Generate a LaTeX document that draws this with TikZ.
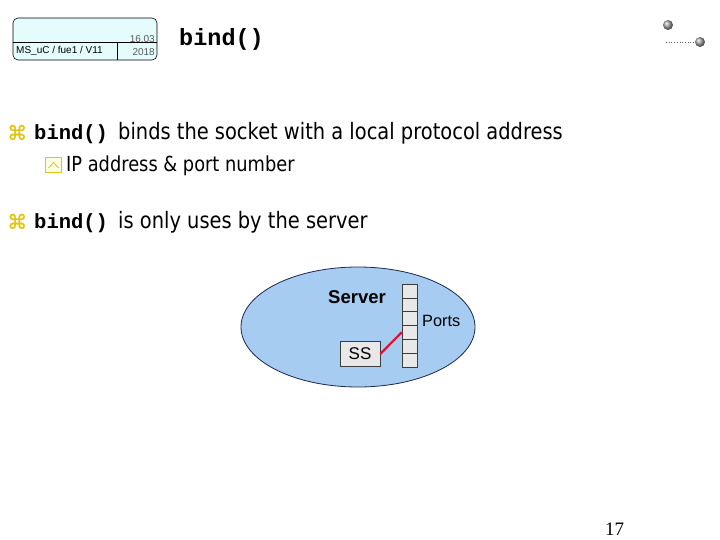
\documentclass[tikz,border=0pt]{standalone}
\usepackage{fontspec}
\setmainfont{Liberation Sans}
\newfontfamily\tah[FakeStretch=0.86]{DejaVu Sans}
\newfontfamily\djvb[FakeBold=1.5]{DejaVu Sans}
\newfontfamily\cour{Liberation Mono}
\newfontfamily\arl{Liberation Sans}
\newfontfamily\tms{Liberation Serif}
\usetikzlibrary{shapes.geometric}
\definecolor{hdrfill}{RGB}{228,252,252}
\definecolor{bulletyel}{RGB}{226,196,20}
\definecolor{ellfill}{RGB}{166,204,242}
\definecolor{ellline}{RGB}{30,40,80}
\definecolor{portfill}{RGB}{232,232,232}
\definecolor{portline}{RGB}{60,60,60}
\definecolor{linkred}{RGB}{220,20,45}
\definecolor{dategrey}{RGB}{90,90,90}
\begin{document}
\begin{tikzpicture}[x=1pt,y=-1pt,
  txt/.style={inner sep=0pt,anchor=base west},
  cell/.style={draw=portline,fill=portfill,line width=0.6pt,minimum width=15pt,minimum height=13.8pt,inner sep=0pt},
  ball/.style={circle,inner sep=0pt,minimum size=10pt,ball color=gray!70!white}]
\useasboundingbox (0,0) rectangle (720,540);
% header box
\draw[fill=hdrfill,line width=0.6pt,rounded corners=5pt] (13,18) rectangle (157,60);
\draw[line width=0.6pt] (13,42) -- (157,42);
\draw[line width=0.6pt] (117,42) -- (117,60);
\node[txt] (hdr) at (16,54) {\arl\fontsize{10}{11}\selectfont MS\_uC / fue1 / V11};
\node[txt,anchor=base east,text=dategrey] (d1) at (155,42.5) {\arl\fontsize{10}{11}\selectfont 16.03};
\node[txt,anchor=base east,text=dategrey] (d2) at (155,55.5) {\arl\fontsize{10}{11}\selectfont 2018};
% title
\node[txt] (title) at (179,46) {\cour\bfseries\fontsize{23.5}{25}\selectfont bind()};
% balls
\node[ball] (b1) at (668,25) {};
\node[ball] (b2) at (700,42) {};
\coordinate (dl) at (666,42);
\draw[dotted,line width=0.7pt,gray!70!black] (dl) -- (b2.west);
% bullets
\node[txt,text=bulletyel] (k1) at (7,140) {\djvb\fontsize{20}{21}\selectfont ⌘};
\node[txt] (l1) at (34,140) {\cour\bfseries\fontsize{20.5}{22}\selectfont bind()\hspace{4pt}\tah\mdseries\fontsize{22.6}{24}\selectfont{} binds the socket with a local protocol address};
\node[draw=bulletyel,fill=yellow!12,line width=0.7pt,minimum width=16pt,minimum height=15pt,inner sep=0pt] (k2) at (53.5,165) {};
\draw[bulletyel,line width=0.8pt] ([xshift=-5pt,yshift=-3pt]k2.center) -- ([yshift=2.5pt]k2.center) -- ([xshift=5pt,yshift=-3pt]k2.center);
\node[txt] (l2) at (66,172) {\tah\fontsize{20.7}{22}\selectfont IP address \& port number};
\node[txt,text=bulletyel] (k3) at (7,229) {\djvb\fontsize{20}{21}\selectfont ⌘};
\node[txt] (l3) at (34,229) {\cour\bfseries\fontsize{20.5}{22}\selectfont bind()\hspace{4pt}\tah\mdseries\fontsize{22.6}{24}\selectfont{} is only uses by the server};
% diagram
\node[ellipse,draw=ellline,fill=ellfill,line width=0.8pt,minimum width=234pt,minimum height=120pt,inner sep=0pt] (srv) at (358,327) {};
\node[txt] (srvlbl) at (328,303) {\arl\bfseries\fontsize{18.5}{20}\selectfont Server};
\foreach \i in {1,...,6} {
  \node[cell] (p\i) at (409.5,{284+6.9+13.8*(\i-1)}) {};
}
\node[txt] (ports) at (422,326) {\arl\fontsize{16.3}{18}\selectfont Ports};
\node[draw=portline,fill=portfill,line width=0.6pt,minimum width=40pt,minimum height=25pt,inner sep=0pt] (ss) at (360,354) {\arl\fontsize{17}{18}\selectfont SS};
\draw[linkred,line width=2.2pt] (ss.east) -- (p4.west);
% page number
\node[txt] (pg) at (605,535) {\tms\fontsize{19}{20}\selectfont 17};
\end{tikzpicture}
\end{document}
